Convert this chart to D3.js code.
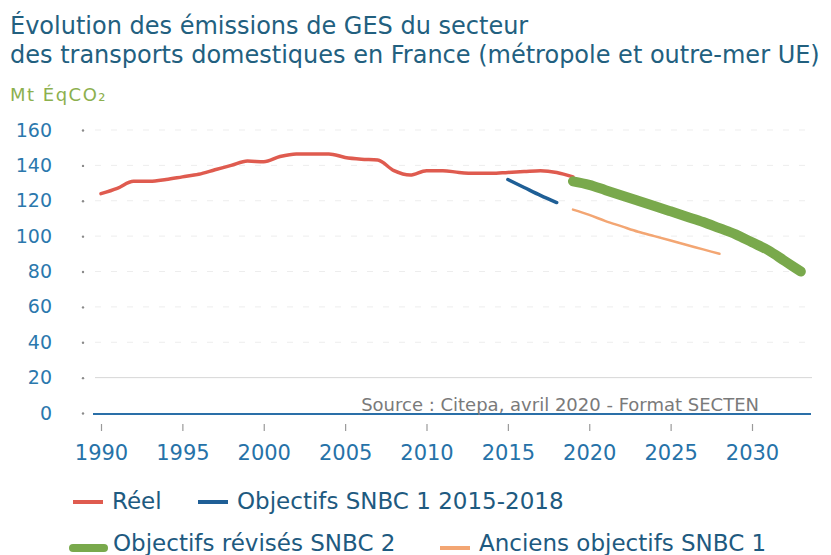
<!DOCTYPE html>
<html>
<head>
<meta charset="utf-8">
<script src="https://cdn.jsdelivr.net/npm/d3@7"></script>
<style>
  body { margin: 0; background: #fff; }
  svg { font-family: "DejaVu Sans", sans-serif; }
</style>
</head>
<body>
<svg width="831" height="555"></svg>
<script>
// valeurs (Mt éq CO2)
const reelYears = d3.range(1990, 2020);
const reelValues = [124, 127, 131, 131, 132, 133.5, 135, 137.5, 140, 142.5,
  142, 145, 146.5, 146.5, 146.5, 144.5, 143.5, 143, 137, 134.5,
  137, 137, 136, 135.5, 135.5, 136, 136.5, 137, 136, 133.5];

const snbc1Years = [2015, 2016, 2017, 2018];
const snbc1Values = [132, 127.5, 123, 119];

const snbc2Years = d3.range(2019, 2034);
const snbc2Values = [131, 129, 126, 123, 120, 117, 114, 111, 108, 104.5, 101, 96.5, 92, 86, 80];

const anciensYears = d3.range(2019, 2029);
const anciensValues = [115, 112, 108.5, 105.5, 102.5, 100, 97.5, 95, 92.5, 90];

const yTicks = [0, 20, 40, 60, 80, 100, 120, 140, 160];
const xTicks = [1990, 1995, 2000, 2005, 2010, 2015, 2020, 2025, 2030];

const series = [
  { name: "Réel", years: reelYears, values: reelValues, color: "#df5b4f", width: 3.5 },
  { name: "Objectifs SNBC 1 2015-2018", years: snbc1Years, values: snbc1Values, color: "#1f5f96", width: 3.5 },
  { name: "Objectifs révisés SNBC 2", years: snbc2Years, values: snbc2Values, color: "#79a94c", width: 10 },
  { name: "Anciens objectifs SNBC 1", years: anciensYears, values: anciensValues, color: "#f3a673", width: 2.5 }
];

const svg = d3.select("svg");

const x = d3.scaleLinear().domain([1990, 2030]).range([101, 752]);
const y = d3.scaleLinear().domain([0, 160]).range([413, 130]);

// titre
const title = svg.append("text")
  .attr("fill", "#22607f")
  .style("font-size", "24px");
title.append("tspan").attr("x", 10).attr("y", 34).text("Évolution des émissions de GES du secteur");
title.append("tspan").attr("x", 10).attr("y", 63).text("des transports domestiques en France (métropole et outre-mer UE)");

svg.append("text")
  .attr("x", 10).attr("y", 101)
  .attr("fill", "#8cb04e")
  .style("font-size", "18px")
  .style("letter-spacing", "1.5px")
  .text("Mt ÉqCO₂");

// grille
svg.append("g")
  .selectAll("line")
  .data(yTicks.filter(d => d > 0))
  .enter().append("line")
  .attr("x1", 95).attr("x2", 812)
  .attr("y1", d => y(d)).attr("y2", d => y(d))
  .attr("stroke", d => d === 20 ? "#d6d6d6" : "#ededed")
  .attr("stroke-width", 1)
  .attr("stroke-dasharray", d => d === 20 ? null : "6,10");

// axe Y
const yAxis = svg.append("g")
  .attr("transform", "translate(83,0)")
  .call(d3.axisLeft(y).tickValues(yTicks).tickSize(0));
yAxis.select(".domain").remove();
yAxis.selectAll("text")
  .attr("x", -31)
  .attr("fill", "#2b78ad")
  .style("font-size", "19px")
  .style("font-family", "'DejaVu Sans', sans-serif");
yAxis.selectAll(".tick").append("circle")
  .attr("r", 1.2).attr("fill", "#8a8a8a");

// ligne zéro
svg.append("line")
  .attr("x1", 93).attr("x2", 811)
  .attr("y1", y(0) + 1).attr("y2", y(0) + 1)
  .attr("stroke", "#2a6fa8").attr("stroke-width", 2);

// axe X
const xAxis = svg.append("g")
  .attr("transform", "translate(0,424)")
  .call(d3.axisBottom(x).tickValues(xTicks).tickFormat(d3.format("d")).tickSize(7));
xAxis.select(".domain").remove();
xAxis.selectAll(".tick line").attr("stroke", "#9a9a9a").attr("stroke-width", 1.2);
xAxis.selectAll("text")
  .attr("y", 21)
  .attr("fill", "#2672a8")
  .style("font-size", "21px")
  .style("font-family", "'DejaVu Sans', sans-serif");

// source
svg.append("text")
  .attr("x", 759).attr("y", 411)
  .attr("text-anchor", "end")
  .attr("fill", "#7a7a7a")
  .style("font-size", "18px")
  .text("Source : Citepa, avril 2020 - Format SECTEN");

// courbes
const line = d3.line()
  .x(d => x(d[0]))
  .y(d => y(d[1]))
  .curve(d3.curveMonotoneX);

svg.append("g")
  .selectAll("path")
  .data(series)
  .enter().append("path")
  .attr("d", s => line(s.years.map((yr, i) => [yr, s.values[i]])))
  .attr("fill", "none")
  .attr("stroke", s => s.color)
  .attr("stroke-width", s => s.width)
  .attr("stroke-linecap", "round")
  .attr("stroke-linejoin", "round");

// légende
const legendPos = [[73, 501], [198, 501], [70, 543], [440, 543]];
const legend = svg.append("g")
  .selectAll("g")
  .data(series)
  .enter().append("g")
  .attr("transform", (d, i) => "translate(" + legendPos[i][0] + "," + legendPos[i][1] + ")");

legend.append("line")
  .attr("x1", d => d.width === 10 ? 3 : 0)
  .attr("x2", d => d.width === 10 ? 34 : 30)
  .attr("y1", (d, i) => i < 2 ? 1 : 5)
  .attr("y2", (d, i) => i < 2 ? 1 : 5)
  .attr("stroke", d => d.color)
  .attr("stroke-width", d => d.width === 10 ? 8 : 4)
  .attr("stroke-linecap", d => d.width === 10 ? "round" : "butt");

legend.append("text")
  .attr("x", d => d.width === 10 ? 43 : 39)
  .attr("dy", "0.35em")
  .attr("fill", "#1e5a80")
  .style("font-size", "23px")
  .text(d => d.name);
</script>
</body>
</html>
